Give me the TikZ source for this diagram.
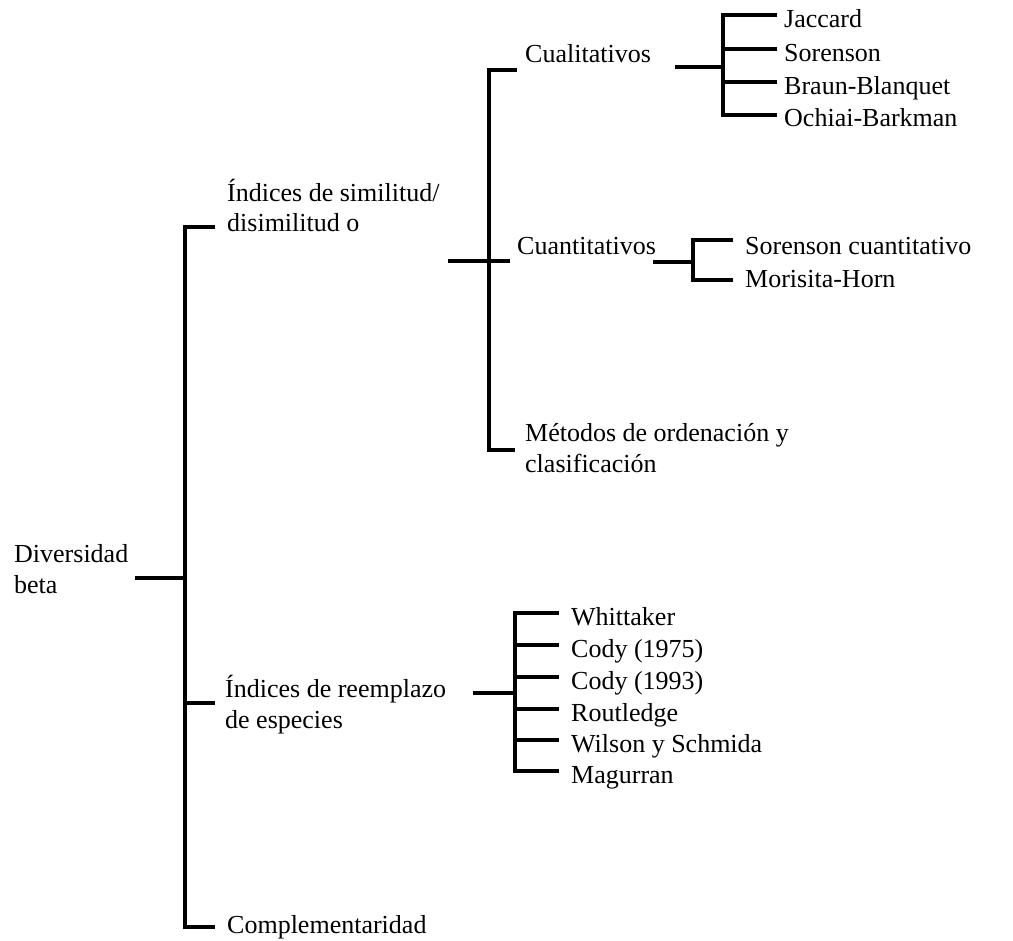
\documentclass[tikz,border=0pt]{standalone}
\usepackage{fontspec}
\setmainfont{Liberation Serif}
\begin{document}
\begin{tikzpicture}[x=1pt,y=-1pt,
  tree/.style={line width=3.2pt, line join=miter, line cap=butt},
  lbl/.style={anchor=base west, inner sep=0pt, font=\fontsize{26}{30.5}\selectfont, align=left}]
\path[use as bounding box] (0,0) rectangle (1013,941);

% ---- text nodes (base = baseline of the last line) ----
\node[lbl] (div)  at (14,593)  {Diversidad\\beta};
\node[lbl] (sim)  at (227,232) {Índices de similitud/\\disimilitud o};
\node[lbl] (reem) at (225,728) {Índices de reemplazo\\de especies};
\node[lbl] (comp) at (227,933) {Complementaridad};
\node[lbl] (cual) at (525,63)  {Cualitativos};
\node[lbl] (cuan) at (517,255) {Cuantitativos};
\node[lbl] (met)  at (525,472) {Métodos de ordenación y\\clasificación};

\node[lbl] (jac) at (784,28)  {Jaccard};
\node[lbl] (sor) at (784,62)  {Sorenson};
\node[lbl] (bra) at (784,95)  {Braun-Blanquet};
\node[lbl] (och) at (784,127) {Ochiai-Barkman};

\node[lbl] (sorc) at (745,255) {Sorenson cuantitativo};
\node[lbl] (mor)  at (745,288) {Morisita-Horn};

\node[lbl] (whi) at (571,625) {Whittaker};
\node[lbl] (c75) at (571,657) {Cody (1975)};
\node[lbl] (c93) at (571,689) {Cody (1993)};
\node[lbl] (rou) at (571,721) {Routledge};
\node[lbl] (wil) at (571,752) {Wilson y Schmida};
\node[lbl] (mag) at (571,783) {Magurran};

% ---- tree coordinates ----
% level 1
\coordinate (divR) at (135,578);
\coordinate (A)    at (185,578);
\coordinate (Atop) at (185,227);
\coordinate (Amid) at (185,703);
\coordinate (Abot) at (185,927);
\coordinate (simL)  at (215,227);
\coordinate (reemL) at (215,703);
\coordinate (compL) at (215,927);
% level 2
\coordinate (simR) at (448,261);
\coordinate (B)    at (489,261);
\coordinate (Btop) at (489,70);
\coordinate (Bbot) at (489,450);
\coordinate (cualL) at (517,70);
\coordinate (cuanL) at (510,261);
\coordinate (metL)  at (515,450);
% cualitativos
\coordinate (cualR) at (675,67);
\coordinate (C)     at (723,67);
\coordinate (C1) at (723,15);  \coordinate (jacL) at (777,15);
\coordinate (C2) at (723,49);  \coordinate (sorL) at (777,49);
\coordinate (C3) at (723,82);  \coordinate (braL) at (777,82);
\coordinate (C4) at (723,115); \coordinate (ochL) at (777,115);
% cuantitativos
\coordinate (cuanR) at (653,262);
\coordinate (D)     at (693,262);
\coordinate (D1) at (693,240); \coordinate (sorcL) at (733,240);
\coordinate (D2) at (693,280); \coordinate (morL)  at (733,280);
% reemplazo
\coordinate (reemR) at (473,693);
\coordinate (E)     at (515,693);
\coordinate (E1) at (515,613); \coordinate (whiL) at (559,613);
\coordinate (E2) at (515,645); \coordinate (c75L) at (559,645);
\coordinate (E3) at (515,677); \coordinate (c93L) at (559,677);
\coordinate (E4) at (515,709); \coordinate (rouL) at (559,709);
\coordinate (E5) at (515,740); \coordinate (wilL) at (559,740);
\coordinate (E6) at (515,771); \coordinate (magL) at (559,771);

% ---- connectors ----
\draw[tree] (divR) -- (A);
\draw[tree] (simL) -- (Atop) -- (Abot) -- (compL);
\draw[tree] (Amid) -- (reemL);

\draw[tree] (simR) -- (B);
\draw[tree] (cualL) -- (Btop) -- (Bbot) -- (metL);
\draw[tree] (B) -- (cuanL);

\draw[tree] (cualR) -- (C);
\draw[tree] (jacL) -- (C1) -- (C4) -- (ochL);
\draw[tree] (C2) -- (sorL);
\draw[tree] (C3) -- (braL);

\draw[tree] (cuanR) -- (D);
\draw[tree] (sorcL) -- (D1) -- (D2) -- (morL);

\draw[tree] (reemR) -- (E);
\draw[tree] (whiL) -- (E1) -- (E6) -- (magL);
\draw[tree] (E2) -- (c75L);
\draw[tree] (E3) -- (c93L);
\draw[tree] (E4) -- (rouL);
\draw[tree] (E5) -- (wilL);
\end{tikzpicture}
\end{document}
